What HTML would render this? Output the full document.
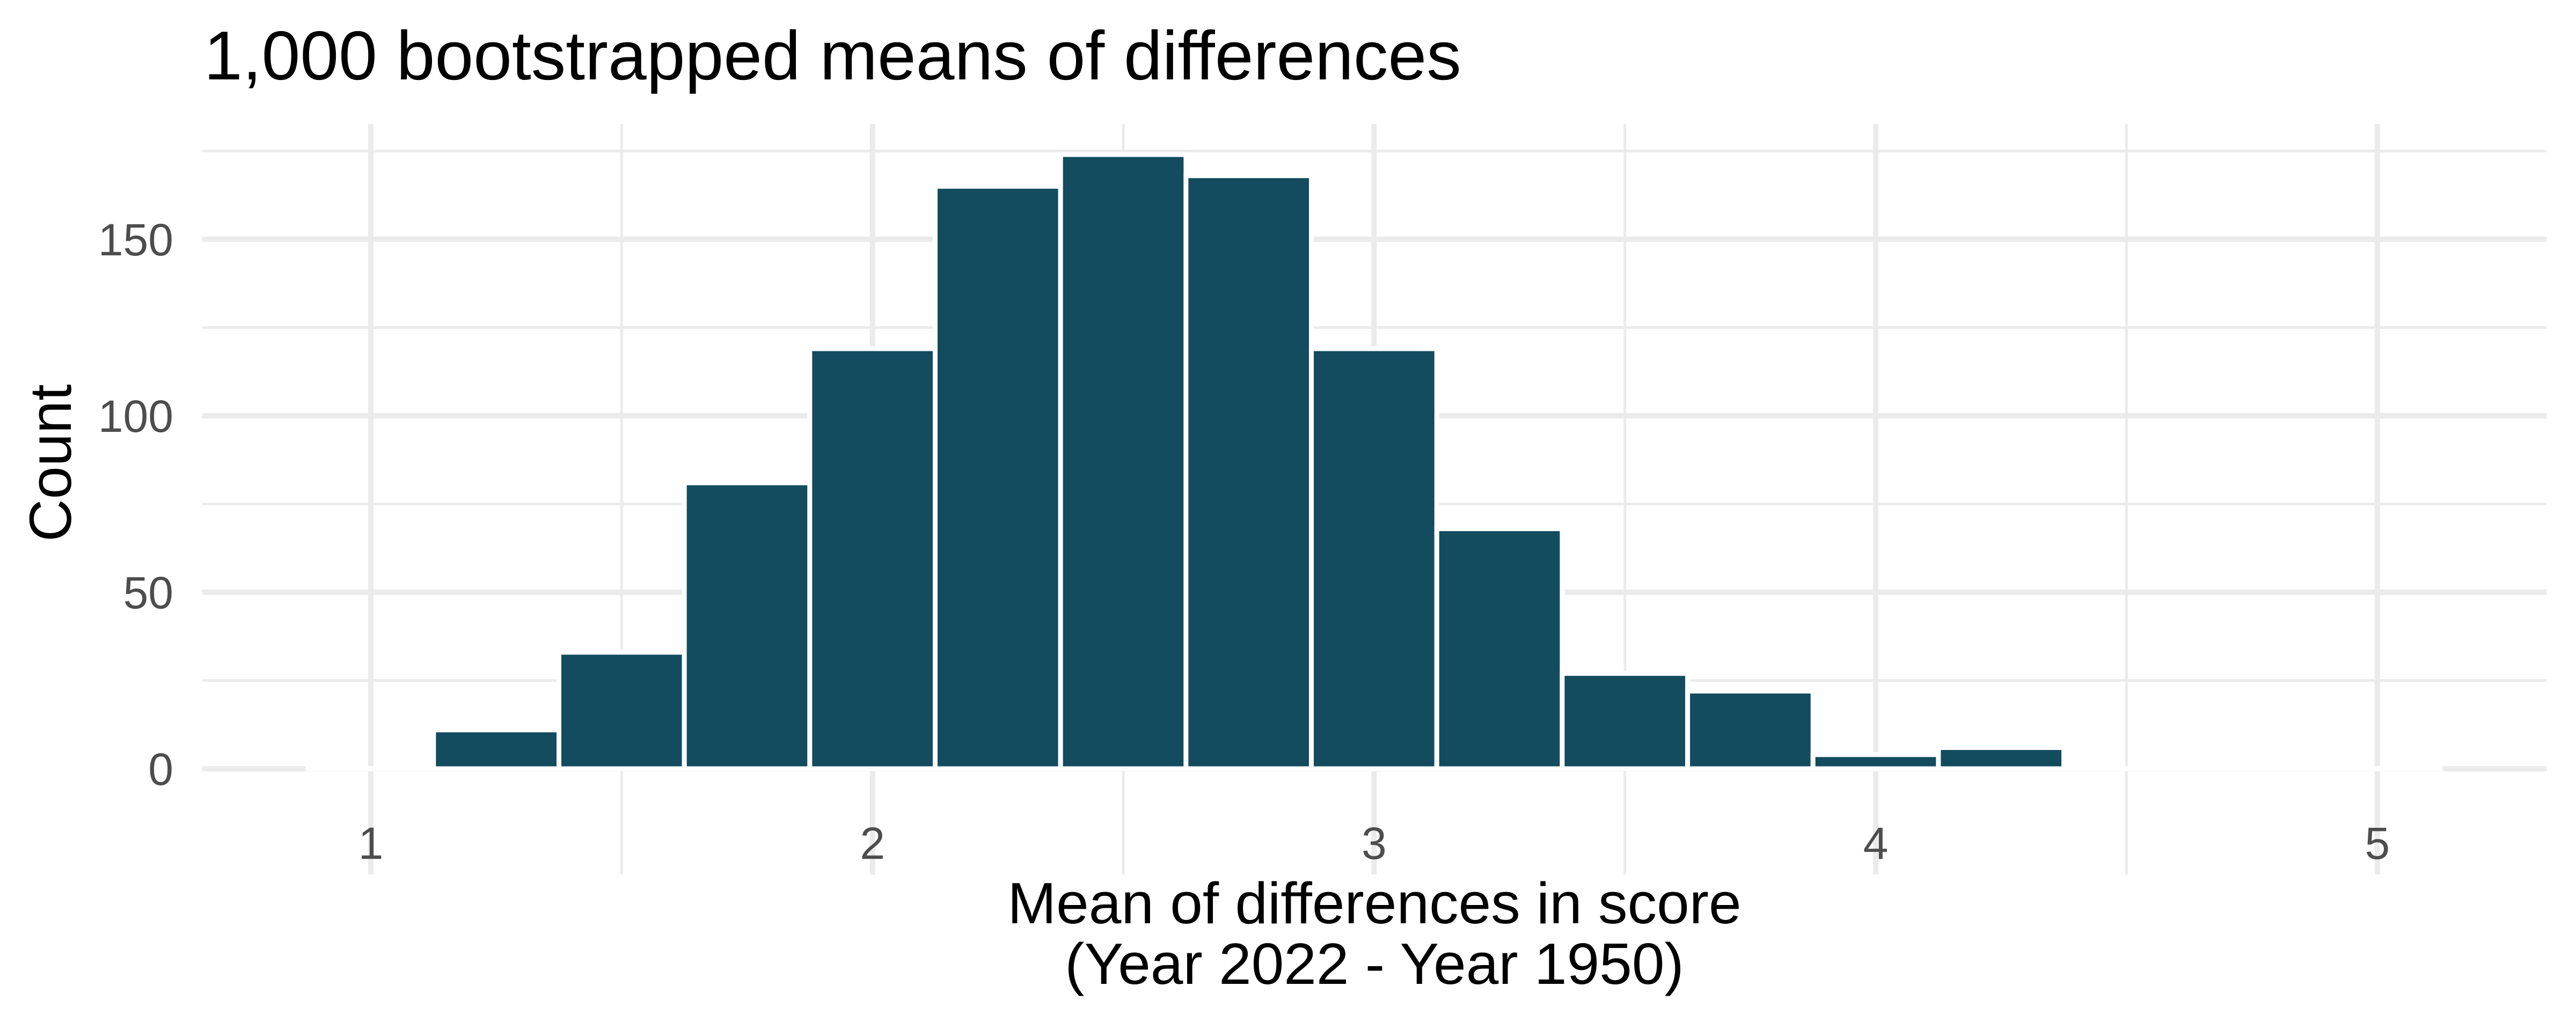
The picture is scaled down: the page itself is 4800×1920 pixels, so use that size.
<!DOCTYPE html>
<html><head><meta charset="utf-8"><style>
html,body{margin:0;padding:0;background:#fff;}
svg{display:block;font-family:"Liberation Sans",Arial,sans-serif;}
</style></head><body>
<svg id="chart" width="4800" height="1920" viewBox="0 0 4800 1920">
<rect x="0" y="0" width="4800" height="1920" fill="#fff"/>
<g id="grid"></g>
<g id="bars"></g>
<g id="yticks"></g>
<g id="xticks"></g>
<text x="380" y="148" font-size="129" fill="#000">1,000 bootstrapped means of differences</text>
<text transform="translate(132,863) rotate(-90)" text-anchor="middle" font-size="110" fill="#000">Count</text>
<text x="2561" y="1721" text-anchor="middle" font-size="109" fill="#000">Mean of differences in score</text>
<text x="2561" y="1834" text-anchor="middle" font-size="109" fill="#000">(Year 2022 - Year 1950)</text>
</svg>
<script>
const binStarts = [0.875,1.125,1.375,1.625,1.875,2.125,2.375,2.625,2.875,3.125,3.375,3.625,3.875,4.125,4.375,4.625,4.875];
const counts = [0,11,33,81,119,165,174,168,119,68,27,22,4,6,0,0,0];
const binWidth = 0.25;
const xTicks = [1,2,3,4,5];
const xMinor = [1.5,2.5,3.5,4.5];
const yTicks = [0,50,100,150];
const yMinor = [25,75,125,175];

const NS = "http://www.w3.org/2000/svg";
const PL = 377, PR = 4745, PT = 231;
function xs(v){ return 691 + (v - 1) * 934.7; }
function ys(v){ return 1433 - v * 6.58; }
function mk(tag, attrs, parent){
  const e = document.createElementNS(NS, tag);
  for (const k in attrs) e.setAttribute(k, attrs[k]);
  parent.appendChild(e);
  return e;
}
const grid = document.getElementById('grid');
yMinor.forEach(v => {
  const l = mk('line', {x1:PL, x2:PR, y1:ys(v), y2:ys(v), stroke:'#ebebeb', 'stroke-width':5}, grid);
  
  
});
xMinor.forEach(v => {
  const l = mk('line', {x1:xs(v), x2:xs(v), y1:PT, y2:1630, stroke:'#ebebeb', 'stroke-width':5}, grid);
  
  
});
yTicks.forEach(v => {
  const l = mk('line', {x1:PL, x2:PR, y1:ys(v), y2:ys(v), stroke:'#ebebeb', 'stroke-width':10}, grid);
  
  
});
xTicks.forEach(v => {
  const l = mk('line', {x1:xs(v), x2:xs(v), y1:PT, y2:1630, stroke:'#ebebeb', 'stroke-width':10}, grid);
  
  
});
const bars = document.getElementById('bars');
binStarts.forEach((b, i) => {
  const x0 = xs(b), x1 = xs(b + binWidth);
  const y = ys(counts[i]);
  const h = Math.max(ys(0) - y, 0.5);
  const r = mk('rect', {x:x0, y:ys(0) - h, width:x1 - x0, height:h, fill:'#134b5f', stroke:'#ffffff', 'stroke-width':9}, bars);
  
  
});
const yt = document.getElementById('yticks');
yTicks.forEach(v => {
  const t = mk('text', {x:323, y:ys(v) + 30, 'text-anchor':'end', 'font-size':84, fill:'#4d4d4d'}, yt);
  t.textContent = String(v);
  
  
});
const xt = document.getElementById('xticks');
xTicks.forEach(v => {
  const t = mk('text', {x:xs(v), y:1601, 'text-anchor':'middle', 'font-size':84, fill:'#4d4d4d'}, xt);
  t.textContent = String(v);
  
  
});
</script>
</body></html>
